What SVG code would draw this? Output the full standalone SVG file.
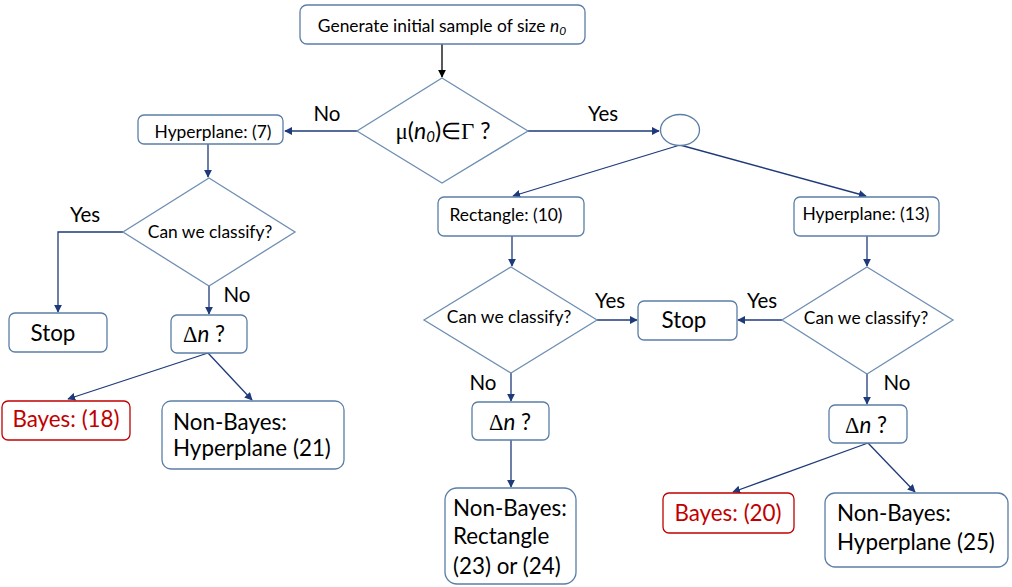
<svg xmlns="http://www.w3.org/2000/svg" width="1012" height="587" viewBox="0 0 1012 587">
<defs>
<style>
.box{fill:#fff;stroke:#5b7ea6;stroke-width:1.3}
.red{fill:#fff;stroke:#c00000;stroke-width:1.3}
.dia{fill:#fff;stroke:#6f8fb3;stroke-width:1.3}
.t{font-family:Lato,"Open Sans",sans-serif;fill:#000}
.s{font-size:17.4px}
.m{font-size:20.5px}
.l{font-size:22.4px}
.rt{fill:#c00000}
.sym{font-family:"Liberation Serif",serif}
.c{stroke:#1f3a7a;stroke-width:1.3;fill:none}
.k{stroke:#000;stroke-width:1.3;fill:none}
</style>
<marker id="a" viewBox="0 0 10 10" refX="9" refY="5" markerWidth="8" markerHeight="8" markerUnits="userSpaceOnUse" orient="auto"><path d="M0,0L10,5L0,10z" fill="#1f3a7a"/></marker>
<marker id="ak" viewBox="0 0 10 10" refX="9" refY="5" markerWidth="8" markerHeight="8" markerUnits="userSpaceOnUse" orient="auto"><path d="M0,0L10,5L0,10z" fill="#000"/></marker>
</defs>
<rect width="1012" height="587" fill="#fff"/>
<g id="connectors">
<path class="k" d="M442,44V77" marker-end="url(#ak)"/>
<path class="c" d="M357,131H285" marker-end="url(#a)"/>
<path class="c" d="M528,131H659" marker-end="url(#a)"/>
<path class="c" d="M680,145L513,196" marker-end="url(#a)"/>
<path class="c" d="M680,145L866,196" marker-end="url(#a)"/>
<path class="c" d="M208,144V177" marker-end="url(#a)"/>
<path class="c" d="M123,232H58V312" marker-end="url(#a)"/>
<path class="c" d="M209,286V314" marker-end="url(#a)"/>
<path class="c" d="M208,353L68,399" marker-end="url(#a)"/>
<path class="c" d="M208,353L252,400" marker-end="url(#a)"/>
<path class="c" d="M512,236V266" marker-end="url(#a)"/>
<path class="c" d="M597,320H637" marker-end="url(#a)"/>
<path class="c" d="M511,373V401" marker-end="url(#a)"/>
<path class="c" d="M511,440V487" marker-end="url(#a)"/>
<path class="c" d="M867,236V266" marker-end="url(#a)"/>
<path class="c" d="M782,320H738" marker-end="url(#a)"/>
<path class="c" d="M867,374V404" marker-end="url(#a)"/>
<path class="c" d="M868,443L733,492" marker-end="url(#a)"/>
<path class="c" d="M868,443L915,492" marker-end="url(#a)"/>
</g>
<g id="labels">
<text class="t m" x="327" y="121" text-anchor="middle">No</text>
<text class="t m" x="603" y="121" text-anchor="middle">Yes</text>
<text class="t m" x="85" y="222" text-anchor="middle">Yes</text>
<text class="t m" x="237" y="302" text-anchor="middle">No</text>
<text class="t m" x="610" y="308" text-anchor="middle">Yes</text>
<text class="t m" x="483" y="390" text-anchor="middle">No</text>
<text class="t m" x="762" y="308" text-anchor="middle">Yes</text>
<text class="t m" x="897" y="390" text-anchor="middle">No</text>
</g>
<g id="start">
<rect class="box" x="300" y="5" width="285" height="39" rx="7"/>
<text class="t s" x="442" y="32" text-anchor="middle">Generate initial sample of size <tspan font-style="italic">n</tspan><tspan font-style="italic" font-size="12" dy="3">0</tspan></text>
</g>
<g id="decision-main">
<polygon class="dia" points="442,78 528,131 442,183 357,131"/>
<text class="t" x="443" y="139" text-anchor="middle" font-size="23"><tspan class="sym">μ</tspan>(<tspan font-style="italic">n</tspan><tspan font-style="italic" font-size="15" dy="3">0</tspan><tspan dy="-3">)</tspan><tspan class="sym">∈Γ</tspan> ?</text>
</g>
<g id="join">
<ellipse class="box" cx="680" cy="130" rx="19.5" ry="15.5"/>
</g>
<g id="hyperplane7">
<rect class="box" x="138" y="115" width="145" height="29" rx="6"/>
<text class="t s" x="213" y="138" text-anchor="middle">Hyperplane: (7)</text>
</g>
<g id="classify-left">
<polygon class="dia" points="209,178 295,232 209,286 123,232"/>
<text class="t s" x="210" y="238" text-anchor="middle">Can we classify?</text>
</g>
<g id="stop-left">
<rect class="box" x="9" y="313" width="98" height="39" rx="6"/>
<text class="t l" x="53" y="341" text-anchor="middle">Stop</text>
</g>
<g id="dn-left">
<rect class="box" x="171" y="315" width="76" height="38" rx="6"/>
<text class="t l" x="204" y="342" text-anchor="middle"><tspan class="sym">Δ</tspan><tspan font-style="italic">n</tspan> ?</text>
</g>
<g id="bayes18">
<rect class="red" x="2" y="401" width="128" height="39" rx="6"/>
<text class="t l rt" x="66" y="427" text-anchor="middle">Bayes: (18)</text>
</g>
<g id="nonbayes21">
<rect class="box" x="162" y="401" width="182" height="68" rx="9"/>
<text class="t l" x="173" y="430">Non-Bayes:</text>
<text class="t l" x="173" y="456">Hyperplane (21)</text>
</g>
<g id="rectangle10">
<rect class="box" x="438" y="197" width="146" height="39" rx="6"/>
<text class="t s" x="506" y="221" text-anchor="middle">Rectangle: (10)</text>
</g>
<g id="classify-mid">
<polygon class="dia" points="511,267 597,320 511,373 424,320"/>
<text class="t s" x="509" y="323" text-anchor="middle">Can we classify?</text>
</g>
<g id="stop-mid">
<rect class="box" x="638" y="301" width="99" height="39" rx="6"/>
<text class="t l" x="684" y="328" text-anchor="middle">Stop</text>
</g>
<g id="dn-mid">
<rect class="box" x="472" y="402" width="77" height="38" rx="6"/>
<text class="t l" x="510" y="430" text-anchor="middle"><tspan class="sym">Δ</tspan><tspan font-style="italic">n</tspan> ?</text>
</g>
<g id="nonbayes-rect">
<rect class="box" x="445" y="488" width="131" height="96" rx="12"/>
<text class="t l" x="453" y="516">Non-Bayes:</text>
<text class="t l" x="453" y="544">Rectangle</text>
<text class="t l" x="453" y="574">(23) or (24)</text>
</g>
<g id="hyperplane13">
<rect class="box" x="794" y="197" width="145" height="39" rx="6"/>
<text class="t s" x="866" y="220" text-anchor="middle">Hyperplane: (13)</text>
</g>
<g id="classify-right">
<polygon class="dia" points="867,267 953,320 867,374 782,320"/>
<text class="t s" x="866" y="324" text-anchor="middle">Can we classify?</text>
</g>
<g id="dn-right">
<rect class="box" x="829" y="405" width="78" height="38" rx="6"/>
<text class="t l" x="866" y="433" text-anchor="middle"><tspan class="sym">Δ</tspan><tspan font-style="italic">n</tspan> ?</text>
</g>
<g id="bayes20">
<rect class="red" x="663" y="493" width="131" height="40" rx="6"/>
<text class="t l rt" x="728" y="521" text-anchor="middle">Bayes: (20)</text>
</g>
<g id="nonbayes25">
<rect class="box" x="825" y="493" width="183" height="74" rx="10"/>
<text class="t l" x="837" y="521">Non-Bayes:</text>
<text class="t l" x="837" y="550">Hyperplane (25)</text>
</g>
</svg>
